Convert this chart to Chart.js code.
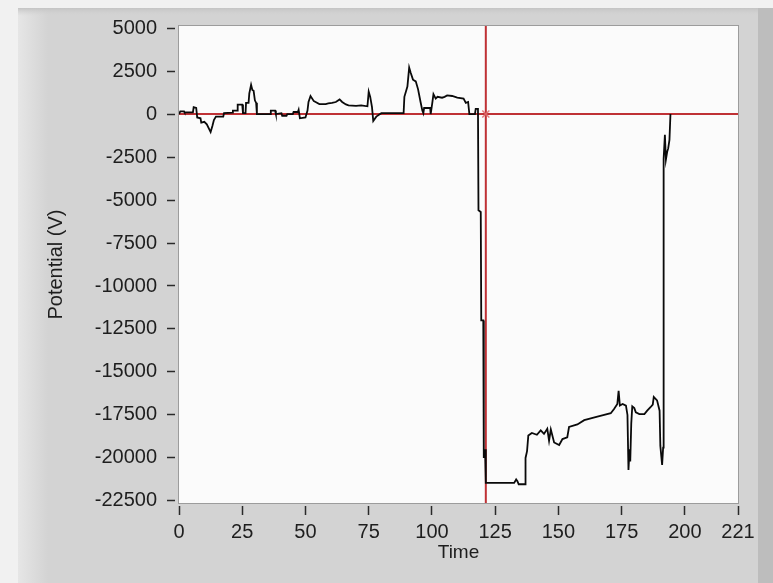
<!DOCTYPE html>
<html>
<head>
<meta charset="utf-8">
<script src="https://cdn.jsdelivr.net/npm/chart.js@4.4.1/dist/chart.umd.min.js"></script>
<style>
  html, body { margin: 0; padding: 0; background: #f2f2f2; }
  #wrap { width: 773px; height: 583px; position: relative; }
</style>
</head>
<body>
<div id="wrap"><canvas id="chart"></canvas></div>
<script>
// trace (time, potential in V)
const timeValues = [
  0, 0.5, 2, 2.2, 5.5, 5.8, 6.8, 7.2, 8.5, 8.8, 10, 11, 12.5, 13.2, 13.8, 14.6,
  17.5, 17.8, 21, 21.3, 23, 23.2, 25, 25.3, 26.3, 26.5, 27.5, 27.8, 28.5, 29,
  29.5, 30, 30.5, 30.8, 36, 36.3, 38, 38.3, 40.5, 40.8, 42.5, 42.8, 45, 45.3, 47,
  47.3, 47.8, 50, 50.8, 51.2, 52, 53.3, 54, 55.5, 58, 59, 60.5, 62, 63.5,
  64.5, 66, 67, 70, 72, 74.5, 75, 75.6, 76.3, 76.8, 78, 79.5, 80, 88.8,
  89.1, 90.3, 91, 91.6, 92.5, 93.6, 94.5, 95.5, 96.2, 96.6, 96.9, 99.3,
  99.5, 100.1, 100.6, 101.5, 102.2, 104, 105, 106, 108, 110, 112.5, 113.4,
  114.3, 114.8, 117, 117.3, 118.2, 118.4, 119.3, 119.5, 120.3, 120.5, 121,
  121.3, 132.5, 133.3, 133.8, 134.3, 136.8, 137, 137.6, 138.1, 139.5,
  141.5, 143, 144.3, 145.6, 146.3, 147, 148.3, 150.3, 151.6, 153.5, 154.2,
  157.5, 160.2, 162.8, 165.4, 168.1, 170.7, 172, 173.3, 173.8, 174.3,
  175.4, 176.7, 177.3, 177.7, 178.1, 178.4, 178.8, 179.2, 180, 180.6, 182,
  184, 185.1, 186.4, 187.3, 187.7, 189, 190, 190.3, 191, 191.4, 191.6,
  192.1, 192.5, 193, 193.4, 193.9, 194.3
];
const potentialValues = [
  0, 150, 150, 100, 100, 400, 350, -200, -250, -500, -450, -600, -1050, -700, -350, -150,
  -150, 50, 80, 200, 200, 550, 550, 50, 50, 650, 650, 1200, 1700, 1400,
  1350, 800, 650, 0, 0, 200, 200, 0, 50, -100, -100, 0, 0, 120, 120,
  250, -250, -200, 200, 700, 1050, 750, 700, 580, 580, 620, 650, 700, 850,
  700, 560, 500, 480, 500, 450, 1300, 1000, 400, -400, -150, 0, 50, 60,
  1000, 1600, 2700, 2400, 2000, 1900, 1450, 700, 200, 50, 350, 350,
  0, 600, 1150, 900, 1000, 950, 1000, 1080, 1050, 950, 900, 650,
  700, 0, 0, 300, 300, -5600, -5700, -12000, -12000, -20000, -19500,
  -21450, -21450, -21250, -21350, -21530, -21530, -20000, -19600, -18700, -18550,
  -18650, -18400, -18600, -18300, -19000, -18350, -19100, -19250, -18900, -18800, -18200,
  -18050, -17800, -17700, -17600, -17500, -17400, -17150, -16860, -16100, -16950,
  -16860, -16960, -17500, -20700, -19500, -20200, -18000, -17000, -17100, -17350, -17450,
  -17450, -17250, -17050, -16900, -16450, -16650, -17250, -19300, -20400, -19400, -2600,
  -1200, -2650, -2200, -2000, -1500, 0
];

const xTickValues = [0, 25, 50, 75, 100, 125, 150, 175, 200, 221];
const yTickValues = [5000, 2500, 0, -2500, -5000, -7500, -10000, -12500,
  -15000, -17500, -20000, -22500];
const xRange = [0, 221];
const yRange = [-22620, 5120];
const cursorTime = 121.3;
const cursorPotential = 0;

const FONT = "'Liberation Sans', Arial, sans-serif";
const CURSOR_RED = "rgba(188, 38, 42, 0.95)";

const framePlugin = {
  id: "frame",
  beforeDraw(chart) {
    const ctx = chart.ctx;
    const w = chart.width;
    const h = chart.height;
    const area = chart.chartArea;
    ctx.save();
    ctx.fillStyle = "#f1f1f1";
    ctx.fillRect(0, 0, w, h);
    // panel
    ctx.fillStyle = "#d3d3d3";
    ctx.fillRect(18, 8, w - 18, h - 8);
    const grad = ctx.createLinearGradient(18, 0, 48, 0);
    grad.addColorStop(0, "#e6e6e6");
    grad.addColorStop(1, "#d3d3d3");
    ctx.fillStyle = grad;
    ctx.fillRect(18, 8, 30, h - 8);
    const topGrad = ctx.createLinearGradient(0, 8, 0, 16);
    topGrad.addColorStop(0, "#c4c4c4");
    topGrad.addColorStop(1, "rgba(211,211,211,0)");
    ctx.fillStyle = topGrad;
    ctx.fillRect(18, 8, w - 18, 8);
    ctx.fillStyle = "#bdbdbd";
    ctx.fillRect(758, 8, w - 758, h - 8);
    // plot background
    ctx.fillStyle = "#fbfbfb";
    ctx.fillRect(area.left, area.top, area.right - area.left, area.bottom - area.top);
    ctx.strokeStyle = "#9c9c9c";
    ctx.lineWidth = 1;
    ctx.strokeRect(area.left - 0.5, area.top - 0.5, area.right - area.left + 1, area.bottom - area.top + 1);
    ctx.restore();
  },
};

const tracePoints = timeValues.map((t, i) => ({ x: t, y: potentialValues[i] }));

new Chart(document.getElementById("chart"), {
  type: "line",
  plugins: [framePlugin],
  data: {
    datasets: [
      {
        label: "Potential",
        data: tracePoints,
        borderColor: "#0a0a0a",
        borderWidth: 1.8,
        pointRadius: 0,
        tension: 0,
        order: 0,
      },
      {
        label: "Cursor horizontal",
        data: [
          { x: xRange[0], y: cursorPotential },
          { x: xRange[1], y: cursorPotential },
        ],
        borderColor: CURSOR_RED,
        borderWidth: 2,
        pointRadius: 0,
        order: 2,
      },
      {
        label: "Cursor vertical",
        data: [
          { x: cursorTime, y: yRange[0] },
          { x: cursorTime, y: yRange[1] },
        ],
        borderColor: CURSOR_RED,
        borderWidth: 2,
        pointRadius: 0,
        order: 2,
      },
      {
        label: "Cursor",
        data: [{ x: cursorTime, y: cursorPotential }],
        showLine: false,
        pointStyle: "crossRot",
        pointRadius: 5,
        borderColor: "rgba(225, 110, 110, 0.9)",
        borderWidth: 1.5,
        order: 1,
      },
    ],
  },
  options: {
    responsive: true,
    maintainAspectRatio: false,
    animation: false,
    layout: {
      padding: { top: 26, right: 35, bottom: 0, left: 0 },
    },
    plugins: {
      legend: { display: false },
      tooltip: { enabled: false },
    },
    scales: {
      x: {
        type: "linear",
        min: xRange[0],
        max: xRange[1],
        afterBuildTicks(scale) {
          scale.ticks = xTickValues.map((value) => ({ value }));
        },
        afterFit(scale) {
          scale.height = 80;
        },
        ticks: {
          autoSkip: false,
          maxRotation: 0,
          color: "#1e1e1e",
          padding: 5,
          font: { family: FONT, size: 20 },
          callback: (value) => String(value),
        },
        grid: {
          drawOnChartArea: false,
          tickLength: 12,
          tickColor: "#2a2a2a",
          tickWidth: 1.5,
          tickBorderDash: [0, 3, 9, 30],
        },
        border: { display: false },
        title: {
          display: true,
          text: "Time",
          color: "#1e1e1e",
          font: { family: FONT, size: 19 },
          padding: { top: 0, bottom: 19 },
        },
      },
      y: {
        type: "linear",
        min: yRange[0],
        max: yRange[1],
        afterBuildTicks(scale) {
          scale.ticks = yTickValues.map((value) => ({ value }));
        },
        afterFit(scale) {
          scale.width = 179;
        },
        ticks: {
          autoSkip: false,
          color: "#1e1e1e",
          padding: 10,
          font: { family: FONT, size: 20 },
          callback: (value) => String(value),
        },
        grid: {
          drawOnChartArea: false,
          tickLength: 12,
          tickColor: "#2a2a2a",
          tickWidth: 1.5,
          tickBorderDash: [8, 4],
        },
        border: { display: false },
        title: {
          display: true,
          text: "Potential (V)",
          color: "#1e1e1e",
          font: { family: FONT, size: 20 },
          padding: { top: 44, bottom: 0 },
        },
      },
    },
  },
});
</script>
</body>
</html>
